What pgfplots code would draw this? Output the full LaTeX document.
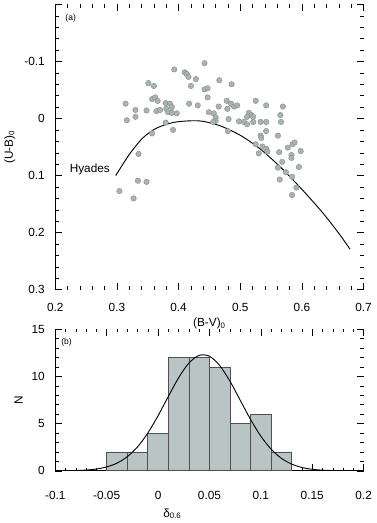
\documentclass[border=0pt]{standalone}
\usepackage{fontspec}
\setmainfont{Liberation Sans}
\usepackage{pgfplots}
\pgfplotsset{compat=1.18}

\definecolor{dotfill}{HTML}{A9B3B1}
\definecolor{dotedge}{HTML}{848E8C}
\definecolor{barfill}{HTML}{B9C5C4}
\definecolor{baredge}{HTML}{505050}

\pgfplotsset{
  panel/.style={
    scale only axis,
    width=235pt,
    axis line style={draw=none},
    tick style={black, line width=0.4pt},
    major tick length=5pt,
    minor tick length=2.5pt,
    minor tick num=4,
    tick label style={font=\fontsize{9}{10.8}\selectfont},
    label style={font=\fontsize{9}{10.8}\selectfont},
    /pgf/number format/assume math mode=true,
    /pgf/number format/fixed,
    scaled ticks=false,
    yticklabel style={xshift=-4.5pt},
    clip=false,
  },
}

\begin{document}
\begin{tikzpicture}
% (a) two-colour diagram
\begin{axis}[panel,
  at={(0,0)}, anchor=south west,
  height=217.5pt,
  xmin=0.2, xmax=0.7,
  ymin=-0.2, ymax=0.3, y dir=reverse,
  xtick={0.2,0.3,0.4,0.5,0.6,0.7},
  ytick={-0.2,-0.1,0,0.1,0.2,0.3},
  yticklabels={,-0.1,0,0.1,0.2,0.3},
  xticklabel style={yshift=-7pt},
  xlabel={(B-V)\textsubscript{0}},
  ylabel={(U-B)\textsubscript{0}},
  xlabel style={yshift=2pt},
]
\draw[black, line width=0.5pt] (rel axis cs:0,0) -- (rel axis cs:0,1);

\addplot[only marks, mark=*, mark size=2.1pt,
  mark options={fill=dotfill, draw=dotedge, line width=0.3pt}] coordinates {
  (0.304,0.127) (0.327,0.140) (0.334,0.109) (0.348,0.111) (0.335,0.062)
  (0.314,-0.026) (0.316,0.003) (0.330,-0.003) (0.330,-0.015) (0.348,-0.014)
  (0.351,-0.062) (0.360,-0.057) (0.357,-0.034) (0.362,-0.037) (0.366,-0.031)
  (0.364,-0.013) (0.357,0.026) (0.370,-0.015) (0.379,-0.027) (0.386,-0.026)
  (0.389,-0.020) (0.380,-0.017) (0.383,-0.011) (0.389,-0.010) (0.379,0.007)
  (0.397,-0.009) (0.391,0.020) (0.393,-0.086)
  (0.410,-0.081) (0.413,-0.078) (0.416,-0.073) (0.420,-0.057) (0.428,-0.069)
  (0.417,-0.026) (0.431,-0.023) (0.442,-0.097) (0.442,-0.051) (0.447,-0.053)
  (0.447,-0.037) (0.449,-0.011) (0.457,-0.009) (0.460,-0.002) (0.460,0.004)
  (0.456,0.006) (0.466,-0.067) (0.465,-0.021) (0.478,-0.031) (0.479,-0.017)
  (0.485,-0.026) (0.490,-0.021) (0.486,-0.060) (0.481,0.001) (0.480,0.022)
  (0.498,0.005) (0.506,0.006) (0.511,0.010) (0.514,-0.010) (0.518,-0.006)
  (0.511,-0.003) (0.521,-0.003) (0.525,-0.031) (0.521,0.006) (0.533,0.006)
  (0.542,0.006) (0.542,-0.023) (0.533,0.030) (0.534,0.034) (0.542,0.022)
  (0.525,0.045) (0.536,0.049) (0.542,0.053) (0.544,0.058) (0.530,0.061)
  (0.495,-0.023)
  (0.569,-0.021) (0.565,-0.006) (0.566,0.006) (0.561,0.030) (0.563,0.059)
  (0.568,0.076) (0.561,0.086) (0.574,0.094) (0.564,0.107) (0.577,0.051)
  (0.585,0.045) (0.588,0.042) (0.598,0.057) (0.583,0.064) (0.583,0.069)
  (0.584,0.102) (0.595,0.085) (0.591,0.121) (0.584,0.134)
};

% Hyades sequence
\addplot[black, line width=0.7pt, smooth] coordinates {
  (0.298,0.100) (0.320,0.063) (0.342,0.034) (0.364,0.017) (0.391,0.007)
  (0.419,0.004) (0.440,0.005) (0.468,0.013) (0.501,0.030) (0.533,0.054)
  (0.566,0.086) (0.599,0.123) (0.632,0.163) (0.659,0.200) (0.678,0.229)
};

\node[anchor=east, font=\fontsize{9}{10.8}\selectfont] at (axis cs:0.296,0.089) {Hyades};
\node[font=\fontsize{6.5}{7}\selectfont] at (axis cs:0.225,-0.175) {(a)};
\end{axis}

% (b) histogram of delta
\begin{axis}[panel,
  at={(0,-30pt)}, anchor=north west,
  height=108pt,
  xmin=-0.1, xmax=0.2,
  ymin=0, ymax=15,
  xtick={-0.1,-0.05,0,0.05,0.1,0.15,0.2},
  ytick={0,5,10,15},
  xticklabel style={yshift=-12pt},
  xlabel={δ\textsubscript{0.6}},
  ylabel={N},
  xlabel style={at={(ticklabel cs:0.38)}},
]
\draw[black, line width=0.5pt] (rel axis cs:0,1) -- (rel axis cs:0,0) -- (rel axis cs:1,0);

\addplot[ybar interval, fill=barfill, draw=baredge, line width=0.5pt] coordinates {
  (-0.05,2) (-0.03,2) (-0.01,4) (0.01,12) (0.03,12) (0.05,11)
  (0.07,5) (0.09,6) (0.11,2) (0.13,0)
};

\addplot[black, line width=0.7pt, smooth] coordinates {
  (-0.08,0.03) (-0.07,0.08) (-0.06,0.19) (-0.05,0.41) (-0.04,0.81)
  (-0.03,1.49) (-0.02,2.53) (-0.01,3.99) (0,5.83) (0.01,7.87)
  (0.02,9.85) (0.03,11.40) (0.04,12.22) (0.05,12.13) (0.06,11.14)
  (0.07,9.48) (0.08,7.46) (0.09,5.44) (0.10,3.67) (0.11,2.29)
  (0.12,1.32) (0.13,0.71) (0.14,0.35) (0.15,0.16) (0.16,0.07) (0.17,0.03)
};

\node[font=\fontsize{6.5}{7}\selectfont] at (axis cs:-0.089,13.6) {(b)};
\end{axis}
\end{tikzpicture}
\end{document}
